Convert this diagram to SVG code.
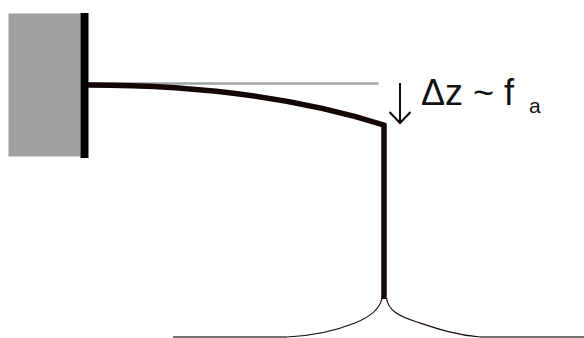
<svg xmlns="http://www.w3.org/2000/svg" width="584" height="338" viewBox="0 0 584 338">
<style>
.t{font-family:"Liberation Sans",Arial,sans-serif;fill:#111}
.c{fill:none;stroke-linecap:butt}
.thick{stroke:#150505;stroke-width:5.500}
.thin{stroke:#1a0a0a;stroke-width:1.2}
.flat{stroke:#444;stroke-width:1.500}
</style>
<rect width="584" height="338" fill="#fff"/>
<g id="support">
<rect x="8.500" y="13.500" width="72" height="143" fill="#a0a0a0"/>
<rect x="80.500" y="13" width="8" height="145" fill="#000"/>
</g>
<g id="connectors">
<path class="c" d="M88 83.500H378.500" stroke="#a0a4a4" stroke-width="2.500"/>
<path class="c thick" d="M88 85C190 85 290 95 385.500 125.500"/>
<path class="c thick" d="M384 123.500V299"/>
<path class="c flat" d="M173 337H287"/>
<path class="c thin" d="M382 298C380 309 370 317 355 323C335 331 310 336 287 337"/>
<path class="c thin" d="M386.500 298C388 310 398 316 417 322C435 328 455 335 480 337"/>
<path class="c flat" d="M480 337H584"/>
<path class="c" d="M400 83V123M389.500 112L400 123L410.500 112" stroke="#150505" stroke-width="2"/>
</g>
<g id="label">
<text class="t" x="421" y="105" font-size="36" xml:space="preserve">Δz ~ f</text>
<text class="t" x="529" y="113" font-size="21">a</text>
</g>
</svg>
